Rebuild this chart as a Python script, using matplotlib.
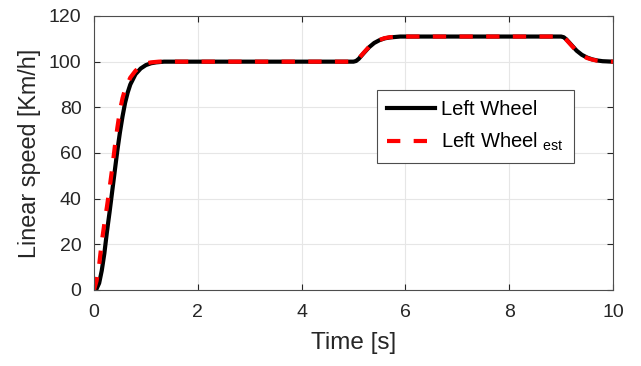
import matplotlib
matplotlib.use('Agg')
import matplotlib.pyplot as plt

plt.rcParams['font.family'] = ['Liberation Sans', 'DejaVu Sans']
plt.rcParams['mathtext.fontset'] = 'custom'
plt.rcParams['mathtext.rm'] = 'Liberation Sans'
plt.rcParams['mathtext.it'] = 'Liberation Sans'

# values
t_meas = [0, 0.05, 0.1, 0.15, 0.2, 0.25, 0.3, 0.35, 0.4, 0.45, 0.5, 0.55, 0.6, 0.65,
          0.7, 0.8, 0.9, 1.0, 1.1, 1.2, 1.35, 5.0, 5.05, 5.1, 5.2, 5.3, 5.4, 5.5, 5.6,
          5.7, 5.8, 5.9, 9.0, 9.05, 9.1, 9.2, 9.3, 9.4, 9.5, 9.6, 9.7, 9.8, 10.0]
v_meas = [0, 0.5, 3, 8.5, 16, 25.5, 34, 43, 52, 61, 69, 76, 82, 86.5,
          90, 94.5, 97, 98.5, 99.3, 99.7, 100, 100, 100.3, 101.2, 103.8, 106.3, 108.2, 109.4, 110.2,
          110.6, 110.8, 111, 111, 110.7, 109.8, 107.3, 104.8, 103, 101.8, 101, 100.5, 100.2, 100]

t_est = [0, 0.05, 0.1, 0.15, 0.2, 0.25, 0.3, 0.35, 0.4, 0.45, 0.5, 0.55, 0.6, 0.7,
         0.8, 0.9, 1.0, 1.1, 1.25, 5.0, 5.05, 5.1, 5.2, 5.3, 5.4, 5.5, 5.6,
         5.7, 5.8, 5.9, 9.0, 9.05, 9.1, 9.2, 9.3, 9.4, 9.5, 9.6, 9.7, 9.8, 10.0]
v_est = [0, 4, 11, 21, 29, 36.5, 44.5, 53, 62.5, 71, 78.5, 84, 88, 93,
         96, 98, 99.2, 99.7, 100, 100, 100.4, 101.4, 104, 106.5, 108.4, 109.5, 110.3,
         110.7, 110.9, 111, 111, 110.6, 109.6, 107.1, 104.6, 102.8, 101.6, 100.9, 100.4, 100.1, 100]

xticks = [0, 2, 4, 6, 8, 10]
yticks = [0, 20, 40, 60, 80, 100, 120]

txt = '#262626'

fig = plt.figure(figsize=(6.41, 3.66), dpi=100)
ax = fig.add_axes([0.1466, 0.2077, 0.8097, 0.7486])

ax.plot(t_meas, v_meas, color='black', lw=3, label='Left Wheel')
ax.plot(t_est, v_est, color='red', lw=3, dashes=(3.2, 3.2), label='Left Wheel $_{\\mathrm{est}}$')

ax.set_xlim(0, 10)
ax.set_ylim(0, 120)
ax.set_xticks(xticks)
ax.set_yticks(yticks)
ax.grid(True, color='#e6e6e6', lw=0.8)
ax.set_axisbelow(True)
ax.tick_params(direction='in', top=True, right=True, labelsize=14, colors=txt, length=4)
ax.tick_params(axis='x', pad=10)
ax.tick_params(axis='y', pad=9)
for s in ax.spines.values():
    s.set_color('#4d4d4d')
    s.set_linewidth(0.8)

ax.set_xlabel('Time [s]', fontsize=17.5, color=txt, labelpad=8)
ax.set_ylabel('Linear speed [Km/h]', fontsize=16.8, color=txt, labelpad=6)

leg = ax.legend(loc='upper left', bbox_to_anchor=(0.545, 0.730), borderaxespad=0,
                fontsize=14.5, fancybox=False, edgecolor='#4d4d4d', framealpha=1,
                handlelength=2.4, handletextpad=0.3, borderpad=0.5, labelspacing=0.6)
leg.get_frame().set_linewidth(0.8)
for tx in leg.get_texts():
    tx.set_color('black')

fig.savefig('out.png', dpi=100)
